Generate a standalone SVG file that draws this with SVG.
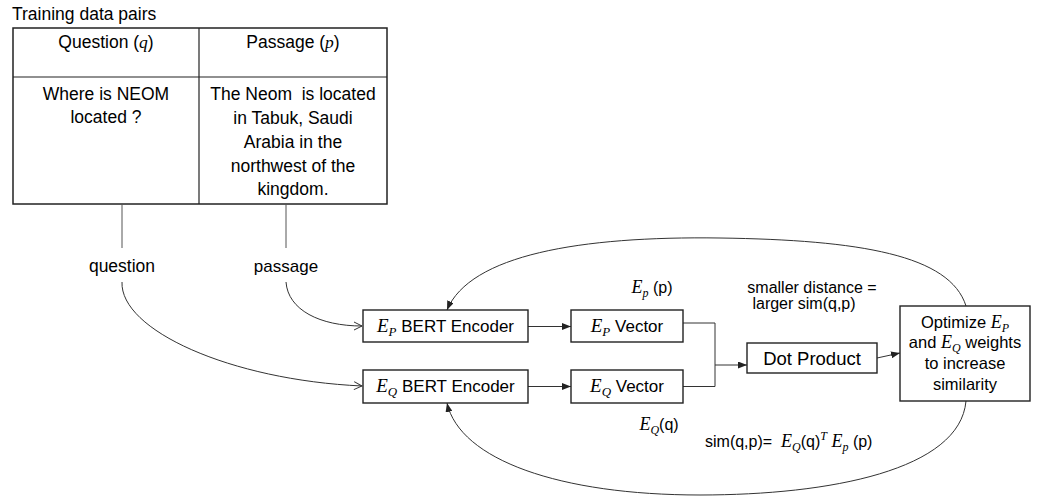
<svg xmlns="http://www.w3.org/2000/svg" width="1043" height="498" viewBox="0 0 1043 498">
<defs>
<style>
.t{font-family:"Liberation Sans",Arial,sans-serif;fill:#000;}
.m{font-family:"Liberation Serif","Times New Roman",serif;font-style:italic;}
.box{fill:#fff;stroke:#222;stroke-width:1.4;}
.ln{fill:none;stroke:#333;stroke-width:1;}
.tl{fill:none;stroke:#555;stroke-width:1;}
</style>
<marker id="fa" markerWidth="9" markerHeight="7" refX="9" refY="3.5" orient="auto" markerUnits="userSpaceOnUse">
<path d="M0,0 L9,3.5 L0,7 z" fill="#222"/>
</marker>
<marker id="oa" markerWidth="10" markerHeight="10" refX="9" refY="5" orient="auto" markerUnits="userSpaceOnUse">
<path d="M1,1 L9,5 L1,9" fill="none" stroke="#333" stroke-width="1"/>
</marker>
</defs>
<rect width="1043" height="498" fill="#fff"/>

<g id="table">
<text class="t" x="12" y="20" font-size="17.5">Training data pairs</text>
<rect x="13" y="28" width="374" height="176" fill="none" stroke="#222" stroke-width="1.5"/>
<line x1="13" y1="77" x2="387" y2="77" stroke="#222" stroke-width="1.2"/>
<line x1="199" y1="28" x2="199" y2="204" stroke="#222" stroke-width="1.2"/>
<text class="t" x="106" y="48" font-size="17.5" text-anchor="middle">Question (<tspan class="m">q</tspan>)</text>
<text class="t" x="293" y="48" font-size="17.5" text-anchor="middle">Passage (<tspan class="m">p</tspan>)</text>
<text class="t" font-size="17.5" text-anchor="middle"><tspan x="106" y="100">Where is NEOM</tspan><tspan x="106" y="123">located ?</tspan></text>
<text class="t" font-size="17.5" text-anchor="middle"><tspan x="293" y="100" style="white-space:pre">The Neom  is located</tspan><tspan x="293" y="124">in Tabuk, Saudi</tspan><tspan x="293" y="148">Arabia in the</tspan><tspan x="293" y="172">northwest of the</tspan><tspan x="293" y="195">kingdom.</tspan></text>
</g>

<g id="labels">
<text class="t" x="122" y="272" font-size="17.5" text-anchor="middle">question</text>
<text class="t" x="286" y="272" font-size="17" text-anchor="middle">passage</text>
<text class="t" x="652" y="293" font-size="16" text-anchor="middle"><tspan class="m" font-size="18">E</tspan><tspan class="m" font-size="12" dy="4">p</tspan><tspan dy="-4"> (p)</tspan></text>
<text class="t" x="659" y="430" font-size="16" text-anchor="middle"><tspan class="m" font-size="18">E</tspan><tspan class="m" font-size="12" dy="4">Q</tspan><tspan dy="-4">(q)</tspan></text>
<text class="t" x="812" y="293" font-size="16" text-anchor="middle">smaller distance =</text>
<text class="t" x="804" y="309" font-size="16" text-anchor="middle">larger sim(q,p)</text>
<text class="t" x="705" y="447" font-size="16"><tspan style="white-space:pre">sim(q,p)=  </tspan><tspan class="m" font-size="18">E</tspan><tspan class="m" font-size="12" dy="4">Q</tspan><tspan dy="-4">(q)</tspan><tspan class="m" font-size="12" dy="-7">T</tspan><tspan class="m" font-size="18" dy="7"> E</tspan><tspan class="m" font-size="12" dy="4">p</tspan><tspan dy="-4"> (p)</tspan></text>
</g>

<g id="connectors">
<line class="tl" x1="122" y1="204" x2="122" y2="248"/>
<line class="tl" x1="286" y1="204" x2="286" y2="248"/>
<path class="ln" d="M122,282 C120,330 230,380 362,386" marker-end="url(#oa)"/>
<path class="ln" d="M286,282 C288,310 320,326 362,326" marker-end="url(#oa)"/>
<line class="ln" x1="528" y1="326.5" x2="571" y2="326.5" marker-end="url(#fa)"/>
<line class="ln" x1="528" y1="386.5" x2="571" y2="386.5" marker-end="url(#fa)"/>
<polyline class="ln" points="683,323 715,323 715,386.5 683,386.5"/>
<line class="ln" x1="715" y1="365" x2="747" y2="365" marker-end="url(#fa)"/>
<line class="ln" x1="877" y1="358" x2="900" y2="353" marker-end="url(#fa)"/>
<path class="ln" d="M966,306 C950,255 860,240 720,238 C580,236 470,255 447,310" marker-end="url(#fa)"/>
<path class="ln" d="M966,401 C960,470 830,495 700,495 C560,495 460,460 447,403" marker-end="url(#fa)"/>
</g>

<g id="ep-encoder">
<rect class="box" x="363" y="310" width="165" height="32"/>
<text class="t" x="445.5" y="332" font-size="17" text-anchor="middle"><tspan class="m" font-size="19">E</tspan><tspan class="m" font-size="13" dy="4">P</tspan><tspan dy="-4"> BERT Encoder</tspan></text>
</g>
<g id="eq-encoder">
<rect class="box" x="363" y="370" width="165" height="33"/>
<text class="t" x="445.5" y="392" font-size="17" text-anchor="middle"><tspan class="m" font-size="19">E</tspan><tspan class="m" font-size="13" dy="4">Q</tspan><tspan dy="-4"> BERT Encoder</tspan></text>
</g>
<g id="ep-vector">
<rect class="box" x="571" y="310" width="112" height="32"/>
<text class="t" x="627" y="332" font-size="17" text-anchor="middle"><tspan class="m" font-size="19">E</tspan><tspan class="m" font-size="13" dy="4">P</tspan><tspan dy="-4"> Vector</tspan></text>
</g>
<g id="eq-vector">
<rect class="box" x="571" y="370" width="112" height="33"/>
<text class="t" x="627" y="392" font-size="17" text-anchor="middle"><tspan class="m" font-size="19">E</tspan><tspan class="m" font-size="13" dy="4">Q</tspan><tspan dy="-4"> Vector</tspan></text>
</g>
<g id="dot-product">
<rect class="box" x="747" y="343" width="130" height="30"/>
<text class="t" x="812" y="364.5" font-size="18.5" text-anchor="middle">Dot Product</text>
</g>
<g id="optimize">
<rect class="box" x="900" y="306" width="130" height="95"/>
<text class="t" x="965" y="328" font-size="16.5" text-anchor="middle">Optimize <tspan class="m" font-size="18">E</tspan><tspan class="m" font-size="12" dy="4">P</tspan></text>
<text class="t" x="965" y="348" font-size="16.5" text-anchor="middle">and <tspan class="m" font-size="18">E</tspan><tspan class="m" font-size="12" dy="4">Q</tspan><tspan dy="-4"> weights</tspan></text>
<text class="t" x="965" y="369" font-size="16.5" text-anchor="middle">to increase</text>
<text class="t" x="965" y="390" font-size="16.5" text-anchor="middle">similarity</text>
</g>
</svg>
